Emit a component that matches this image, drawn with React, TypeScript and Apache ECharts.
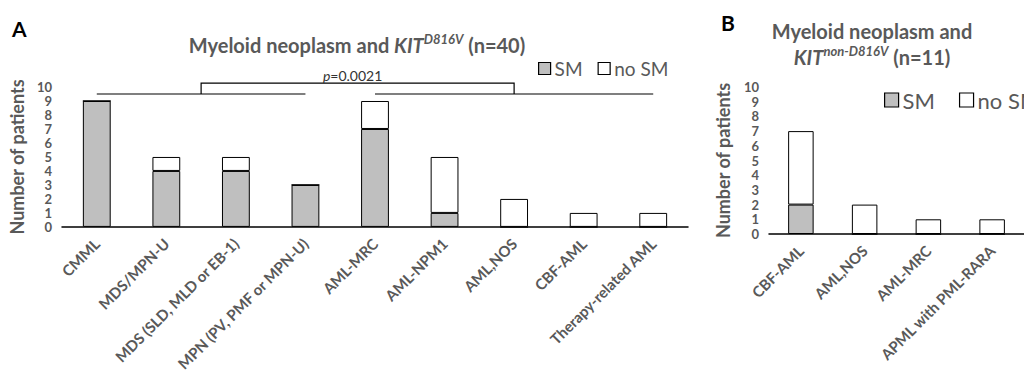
import React, { useEffect, useRef } from "react";
import * as echarts from "echarts";

const categoriesA = [
  "CMML",
  "MDS/MPN-U",
  "MDS (SLD, MLD or EB-1)",
  "MPN (PV, PMF or MPN-U)",
  "AML-MRC",
  "AML-NPM1",
  "AML,NOS",
  "CBF-AML",
  "Therapy-related AML",
];
const smA = [9, 4, 4, 3, 7, 1, 0, 0, 0];
const noSmA = [0, 1, 1, 0, 2, 4, 2, 1, 1];

const categoriesB = ["CBF-AML", "AML,NOS", "AML-MRC", "APML with PML-RARA"];
const smB = [2, 0, 0, 0];
const noSmB = [5, 2, 1, 1];

const yMin = 0;
const yMax = 10;
const yInterval = 1;

// bracket: category index ranges of the two compared groups
const bracketGroups = [
  [0, 3],
  [4, 8],
];
const bracketLevel = 9.5;
const bracketTop = 10.27;
const pLabel = "0.0021";

const FONT = "Lato, 'Open Sans', sans-serif";
const GREY = "#595959";
const SM_COLOR = "#BFBFBF";
const NOSM_COLOR = "#FFFFFF";

export default function App() {
  const ref = useRef<HTMLDivElement>(null);
  useEffect(() => {
    if (!ref.current) return;
    const chart = echarts.init(ref.current, undefined, { renderer: "svg" });

    const yAxisBase = (name: string, gap: number, idx: number) => ({
      type: "value",
      gridIndex: idx,
      min: yMin,
      max: yMax,
      interval: yInterval,
      name,
      nameLocation: "middle",
      nameGap: gap,
      nameTextStyle: { fontFamily: FONT, fontSize: 18, fontWeight: "bold", color: GREY },
      axisLine: { show: false },
      axisTick: { show: false },
      splitLine: { show: false },
      axisLabel: {
        fontFamily: FONT,
        fontSize: 13,
        lineHeight: 12,
        fontWeight: "bold",
        color: GREY,
        margin: 10,
      },
    });

    const xAxisBase = (data: string[], idx: number) => ({
      type: "category",
      gridIndex: idx,
      data,
      axisLine: { lineStyle: { color: "#000", width: 1.5 } },
      axisTick: { show: false },
      axisLabel: {
        interval: 0,
        rotate: 45,
        fontFamily: FONT,
        fontSize: 15,
        fontWeight: "bold",
        color: GREY,
        margin: 14,
      },
    });

    const barStyle = (color: string) => ({ color, borderColor: "#000", borderWidth: 1 });

    const legendBase = (left: number, top: number, gap: number, size: number, box: number) => ({
      data: ["SM", "no SM"],
      orient: "horizontal",
      left,
      top,
      width: 300,
      icon: "rect",
      itemWidth: box,
      itemHeight: box,
      itemGap: gap,
      padding: 0,
      itemStyle: { borderColor: "#000", borderWidth: 1.2 },
      textStyle: { fontFamily: FONT, fontSize: size, color: GREY, padding: [0, 0, 0, -1] },
      selectedMode: false,
    });

    const titleRich = {
      t: { fontFamily: FONT, fontSize: 20, fontWeight: "bold", fill: GREY, lineHeight: 26 },
      i: { fontFamily: FONT, fontSize: 20, fontWeight: "bold", fontStyle: "italic", fill: GREY, lineHeight: 26 },
      s: { fontFamily: FONT, fontSize: 13, fontWeight: "bold", fontStyle: "italic", fill: GREY, lineHeight: 16, verticalAlign: "top" },
    };

    chart.setOption({
      animation: false,
      backgroundColor: "#fff",
      grid: [
        { left: 62, top: 87, width: 626, height: 145 },
        { left: 769, top: 87, width: 267, height: 147 },
      ],
      xAxis: [xAxisBase(categoriesA, 0), xAxisBase(categoriesB, 1)],
      yAxis: [yAxisBase("Number of patients", 36, 0), yAxisBase("Number of patients", 37, 1)],
      legend: [legendBase(538, 59, 15, 19, 12), legendBase(884, 89, 24, 22, 14)],
      graphic: [
        {
          type: "text",
          x: 12,
          y: 18,
          style: { text: "A", font: `bold 21px ${FONT}`, fill: "#000" },
        },
        {
          type: "text",
          x: 721,
          y: 12,
          style: { text: "B", font: `bold 21px ${FONT}`, fill: "#000" },
        },
        {
          type: "text",
          x: 357,
          y: 45,
          style: {
            text: "{t|Myeloid neoplasm and }{i|KIT}{s|D816V}{t| (n=40)}",
            rich: titleRich,
            align: "center",
            verticalAlign: "middle",
          },
        },
        {
          type: "text",
          x: 872,
          y: 44,
          style: {
            text: "{t|Myeloid neoplasm and}\n{i|KIT}{s|non-D816V}{t| (n=11)}",
            rich: titleRich,
            align: "center",
            verticalAlign: "middle",
          },
        },
      ],
      series: [
        {
          name: "SM",
          type: "bar",
          xAxisIndex: 0,
          yAxisIndex: 0,
          stack: "a",
          barWidth: "40%",
          data: smA,
          itemStyle: barStyle(SM_COLOR),
        },
        {
          name: "no SM",
          type: "bar",
          xAxisIndex: 0,
          yAxisIndex: 0,
          stack: "a",
          barWidth: "40%",
          data: noSmA,
          itemStyle: barStyle(NOSM_COLOR),
        },
        {
          name: "SM",
          type: "bar",
          xAxisIndex: 1,
          yAxisIndex: 1,
          stack: "b",
          barWidth: "40%",
          data: smB,
          itemStyle: barStyle(SM_COLOR),
        },
        {
          name: "no SM",
          type: "bar",
          xAxisIndex: 1,
          yAxisIndex: 1,
          stack: "b",
          barWidth: "40%",
          data: noSmB,
          itemStyle: barStyle(NOSM_COLOR),
        },
        {
          name: "bracket",
          type: "custom",
          xAxisIndex: 0,
          yAxisIndex: 0,
          data: [[0, bracketLevel]],
          silent: true,
          clip: false,
          z: 5,
          renderItem: (params: any, api: any) => {
            const lineStyle = { stroke: "#000", lineWidth: 1.2, fill: null };
            const children: any[] = [];
            const mids: number[] = [];
            let yLevel = 0;
            bracketGroups.forEach(([s, e]) => {
              const p1 = api.coord([s, bracketLevel]);
              const p2 = api.coord([e, bracketLevel]);
              yLevel = p1[1];
              children.push({
                type: "line",
                shape: { x1: p1[0], y1: p1[1], x2: p2[0], y2: p2[1] },
                style: lineStyle,
              });
              mids.push((p1[0] + p2[0]) / 2);
            });
            const yTop = api.coord([0, bracketTop])[1];
            children.push({
              type: "polyline",
              shape: {
                points: [
                  [mids[0], yLevel],
                  [mids[0], yTop],
                  [mids[1], yTop],
                  [mids[1], yLevel],
                ],
              },
              style: lineStyle,
            });
            children.push({
              type: "text",
              x: (mids[0] + mids[1]) / 2 - 5,
              y: yTop - 1,
              style: {
                text: "{i|p}{t|=" + pLabel + "}",
                rich: {
                  i: { fontFamily: FONT, fontSize: 14, fontStyle: "italic", fill: "#333" },
                  t: { fontFamily: FONT, fontSize: 14, fill: "#333" },
                },
                align: "center",
                verticalAlign: "bottom",
              },
            });
            return { type: "group", children };
          },
        },
      ],
    });
    return () => chart.dispose();
  }, []);
  return (
    <div
      ref={ref}
      style={{ position: "fixed", left: 0, top: 0, width: 1024, height: 374, overflow: "hidden" }}
    />
  );
}
